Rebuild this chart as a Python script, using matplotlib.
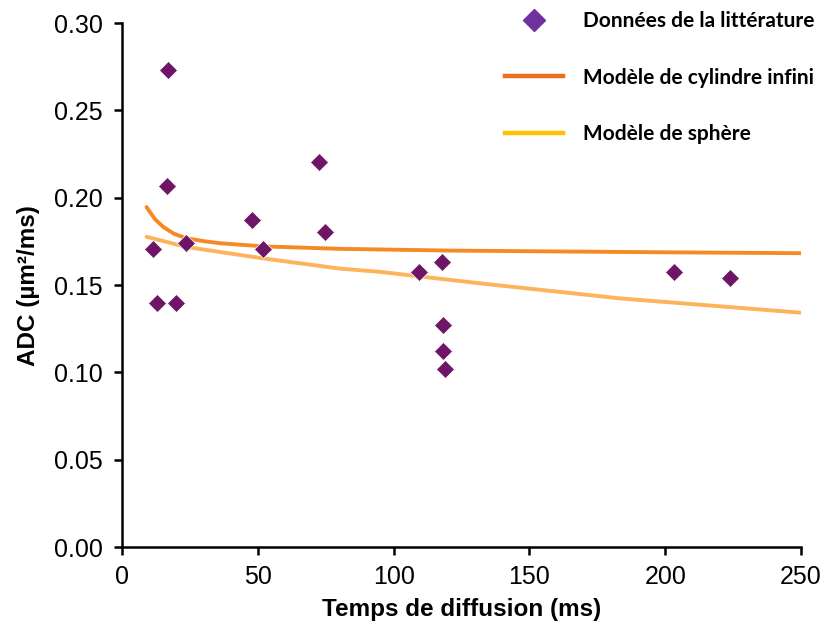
import matplotlib.pyplot as plt
from matplotlib.lines import Line2D

# Literature data points
lit_t = [11.4, 12.9, 17.0, 16.6, 19.9, 23.5, 47.8, 51.9, 72.5, 74.8,
         109.3, 117.8, 118.2, 118.2, 118.9, 203.2, 223.8]
lit_adc = [0.1706, 0.1397, 0.2731, 0.2067, 0.1397, 0.1740, 0.1872, 0.1706, 0.2204, 0.1803,
           0.1574, 0.1632, 0.1271, 0.1122, 0.1019, 0.1574, 0.1540]

# Infinite cylinder model
cyl_t = [9.0, 12.0, 15.0, 19.0, 23.5, 30.0, 36.0, 52.0, 80.0, 120.0, 200.0, 250.0]
cyl_adc = [0.1947, 0.1880, 0.1835, 0.1795, 0.1769, 0.1752, 0.1740, 0.1722, 0.1708, 0.1698, 0.1688, 0.1683]

# Sphere model
sph_t = [9.0, 23.5, 52.0, 80.0, 95.0, 132.0, 183.5, 250.0]
sph_adc = [0.1777, 0.1719, 0.1653, 0.1595, 0.1576, 0.1510, 0.1424, 0.1342]

fig = plt.figure(figsize=(8.25, 6.26), dpi=100)
ax = fig.add_axes([0.148, 0.126, 0.823, 0.837])

ax.plot(cyl_t, cyl_adc, color='#F58A24', lw=2.8, solid_capstyle='round')
ax.plot(sph_t, sph_adc, color='#FDB35A', lw=2.8, solid_capstyle='round')
ax.plot(lit_t, lit_adc, 'D', color='#6E1568', ms=9.5, mec='white', mew=0.5, zorder=3)

ax.set_xlim(0, 250)
ax.set_ylim(0, 0.30)
ax.set_xticks([0, 50, 100, 150, 200, 250])
ax.set_yticks([0.00, 0.05, 0.10, 0.15, 0.20, 0.25, 0.30])
ax.yaxis.set_major_formatter(plt.FormatStrFormatter('%.2f'))

for s in ['top', 'right']:
    ax.spines[s].set_visible(False)
for s in ['left', 'bottom']:
    ax.spines[s].set_linewidth(1.8)
ax.tick_params(width=1.8, length=6, labelsize=18)
ax.tick_params(axis='y', pad=8)
ax.tick_params(axis='x', pad=7)
for lab in ax.get_xticklabels() + ax.get_yticklabels():
    lab.set_family('Liberation Sans')

ax.set_xlabel('Temps de diffusion (ms)', fontsize=17.5, fontweight='bold',
              family='Liberation Sans', labelpad=6)
ax.set_ylabel('ADC (µm²/ms)', fontsize=17.5, fontweight='bold',
              family='Liberation Sans', labelpad=10)

# legend uses the original chart's legend colours
handles = [
    Line2D([], [], ls='none', marker='D', color='#7030A0', ms=11),
    Line2D([], [], color='#E8711A', lw=3.2),
    Line2D([], [], color='#FFC000', lw=3.2),
]
labels = ['Données de la littérature', 'Modèle de cylindre infini', 'Modèle de sphère']
fig.legend(handles, labels, loc='upper left', bbox_to_anchor=(0.612, 0.982),
           frameon=False, borderpad=0, borderaxespad=0, handlelength=2.8,
           handletextpad=0.95, labelspacing=1.75,
           prop={'family': 'Lato', 'weight': 'bold', 'size': 15})

fig.savefig('out.png', dpi=100)
